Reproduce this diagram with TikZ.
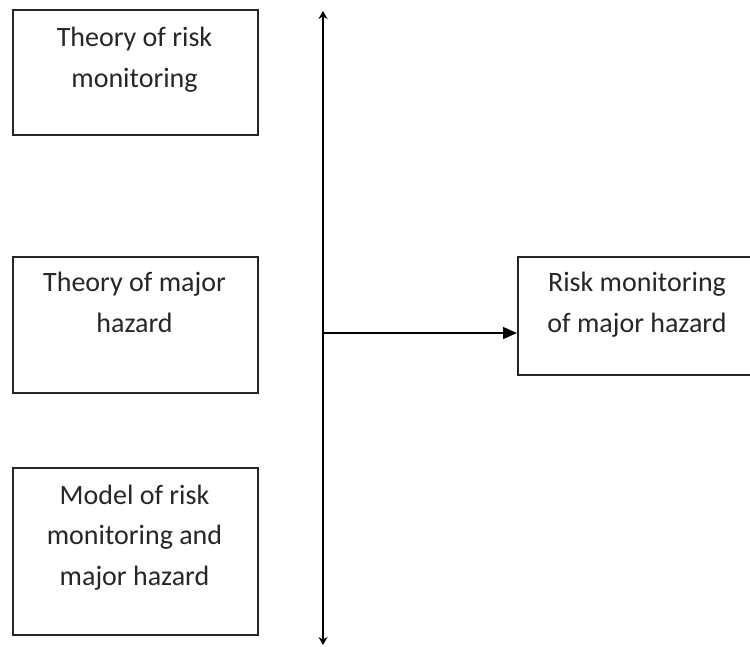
\documentclass[tikz,border=0pt]{standalone}
\usepackage{fontspec}
\setmainfont{Carlito}
\usetikzlibrary{arrows.meta}
\begin{document}
\begin{tikzpicture}[x=1pt,y=-1pt,
  boxstyle/.style={draw=black!85, line width=1.5pt, inner sep=0pt},
  txt/.style={align=center, anchor=base, inner sep=0pt, font=\fontsize{28}{40.5}\selectfont, text=black!85},
  conn/.style={draw=black, line width=1.4pt}]
\useasboundingbox (0,0) rectangle (750,646);
% boxes
\node[boxstyle, minimum width=245pt, minimum height=125pt, anchor=north west] (b1) at (12,9) {};
\node[boxstyle, minimum width=245pt, minimum height=136pt, anchor=north west] (b2) at (12,256) {};
\node[boxstyle, minimum width=245pt, minimum height=167pt, anchor=north west] (b3) at (12,467) {};
\node[boxstyle, minimum width=242pt, minimum height=118pt, anchor=north west] (r) at (517,256) {};
% texts (anchor = baseline of last line)
\node[txt] (t1) at (134.5,87) {Theory of risk\\monitoring};
\node[txt] (t2) at (134.5,332) {Theory of major\\hazard};
\node[txt] (t3) at (134.5,585) {Model of risk\\monitoring and\\major hazard};
\node[txt] (t4) at (637,332) {Risk monitoring\\of major hazard};
% connectors
\coordinate (top) at (323,11);
\coordinate (bot) at (323,645);
\coordinate (mid) at (323,333);
\draw[conn, {Stealth[length=8pt,width=9pt]}-{Stealth[length=8pt,width=9pt]}] (top) -- (bot);
\draw[conn, -{Triangle[length=14pt,width=12pt]}] (mid) -- (mid -| r.west);
\end{tikzpicture}
\end{document}
